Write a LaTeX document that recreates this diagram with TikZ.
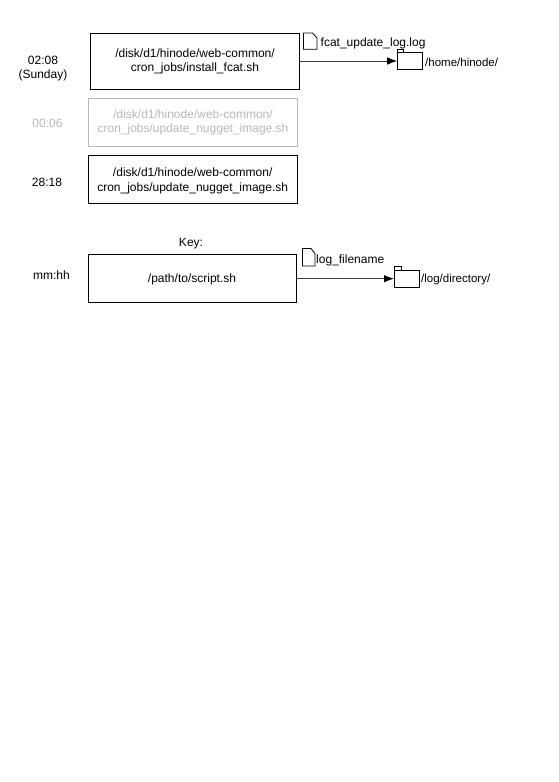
\documentclass[tikz,border=0pt]{standalone}
\usepackage{fontspec}
\setmainfont{Liberation Sans}
\usetikzlibrary{arrows.meta}
\definecolor{faded}{RGB}{184,184,184}
\tikzset{
  x=1pt,y=-1pt,
  jobbox/.style={draw=black,line width=0.9pt,inner sep=0pt,align=center,font=\fontsize{12}{14.6}\selectfont,text=black},
  fadedbox/.style={jobbox,draw=faded,text=faded},
  textonly/.style={inner sep=0pt,align=center,font=\fontsize{12}{14.6}\selectfont,text=black},
  smalllabel/.style={inner sep=0pt,anchor=west,font=\fontsize{11.5}{12}\selectfont,text=black},
  outline/.style={draw=black,line width=0.8pt,line join=miter},
  folderbody/.style={outline,inner sep=0pt},
  link/.style={draw=black!75,line width=1pt,-{Latex[length=10pt,width=7.5pt,black]}},
}
\begin{document}
\begin{tikzpicture}
\useasboundingbox[fill=white] (0,0) rectangle (558,782);
% job boxes
\node[jobbox,minimum width=209pt,minimum height=56pt] (b1) at (195,61.5) {/disk/d1/hinode/web-common/\\cron\_jobs/install\_fcat.sh};
\node[fadedbox,minimum width=209pt,minimum height=48pt] (b2) at (193,122.5) {/disk/d1/hinode/web-common/\\cron\_jobs/update\_nugget\_image.sh};
\node[draw=black,line width=0.9pt,minimum width=208.5pt,minimum height=48pt] (b3) at (192.7,179.3) {};
\node[textonly] (b3t) at (192.7,180.6) {/disk/d1/hinode/web-common/\\cron\_jobs/update\_nugget\_image.sh};
\node[draw=black,line width=0.9pt,minimum width=208pt,minimum height=48pt] (k) at (192.5,278) {};
\node[textonly] (kt) at (192,279.5) {/path/to/script.sh};
% times
\node[textonly] (t1) at (43,68.7) {02:08\\(Sunday)};
\node[textonly,text=faded] (t2) at (47.5,123.5) {00:06};
\node[textonly] (t3) at (47,182) {28:18};
\node[textonly] (t4) at (51.5,275.5) {mm:hh};
\node[textonly] (keyt) at (191,243.2) {Key:};
% folder 1
\node[folderbody,minimum width=25.2pt,minimum height=16.6pt] (f1) at (410.2,61) {};
\draw[outline] (f1.north west) -- ++(0,-3.2) -- ++(6.5,0) -- ++(0,3.2);
\node[smalllabel] (f1t) at (425,62.5) {/home/hinode/};
% folder 2
\node[folderbody,minimum width=24.8pt,minimum height=17.3pt] (f2) at (406.8,278.7) {};
\draw[outline] (f2.north west) -- ++(0,-2.8) -- ++(7.7,0) -- ++(0,2.8);
\node[smalllabel] (f2t) at (421,280) {/log/directory/};
% file icons
\coordinate (fa) at (303.5,33);
\draw[outline] (fa) -- ++(9,0) -- ++(4.5,5) -- ++(0,11.3) -- ++(-13.5,0) -- cycle;
\node[inner sep=0pt,anchor=west,font=\fontsize{12}{15}\selectfont] (fat) at (320.5,43) {fcat\_update\_log.log};
\coordinate (fb) at (302.5,248.5);
\draw[outline] (fb) -- ++(8.5,0) -- ++(4,5) -- ++(0,12.5) -- ++(-12.5,0) -- cycle;
\node[inner sep=0pt,anchor=west,font=\fontsize{12}{15}\selectfont] (fbt) at (316,260) {log\_filename};
% connectors
\draw[link] (b1.east |- f1.west) -- (f1.west);
\draw[link] (k.east |- f2.west) -- (f2.west);
\end{tikzpicture}
\end{document}
